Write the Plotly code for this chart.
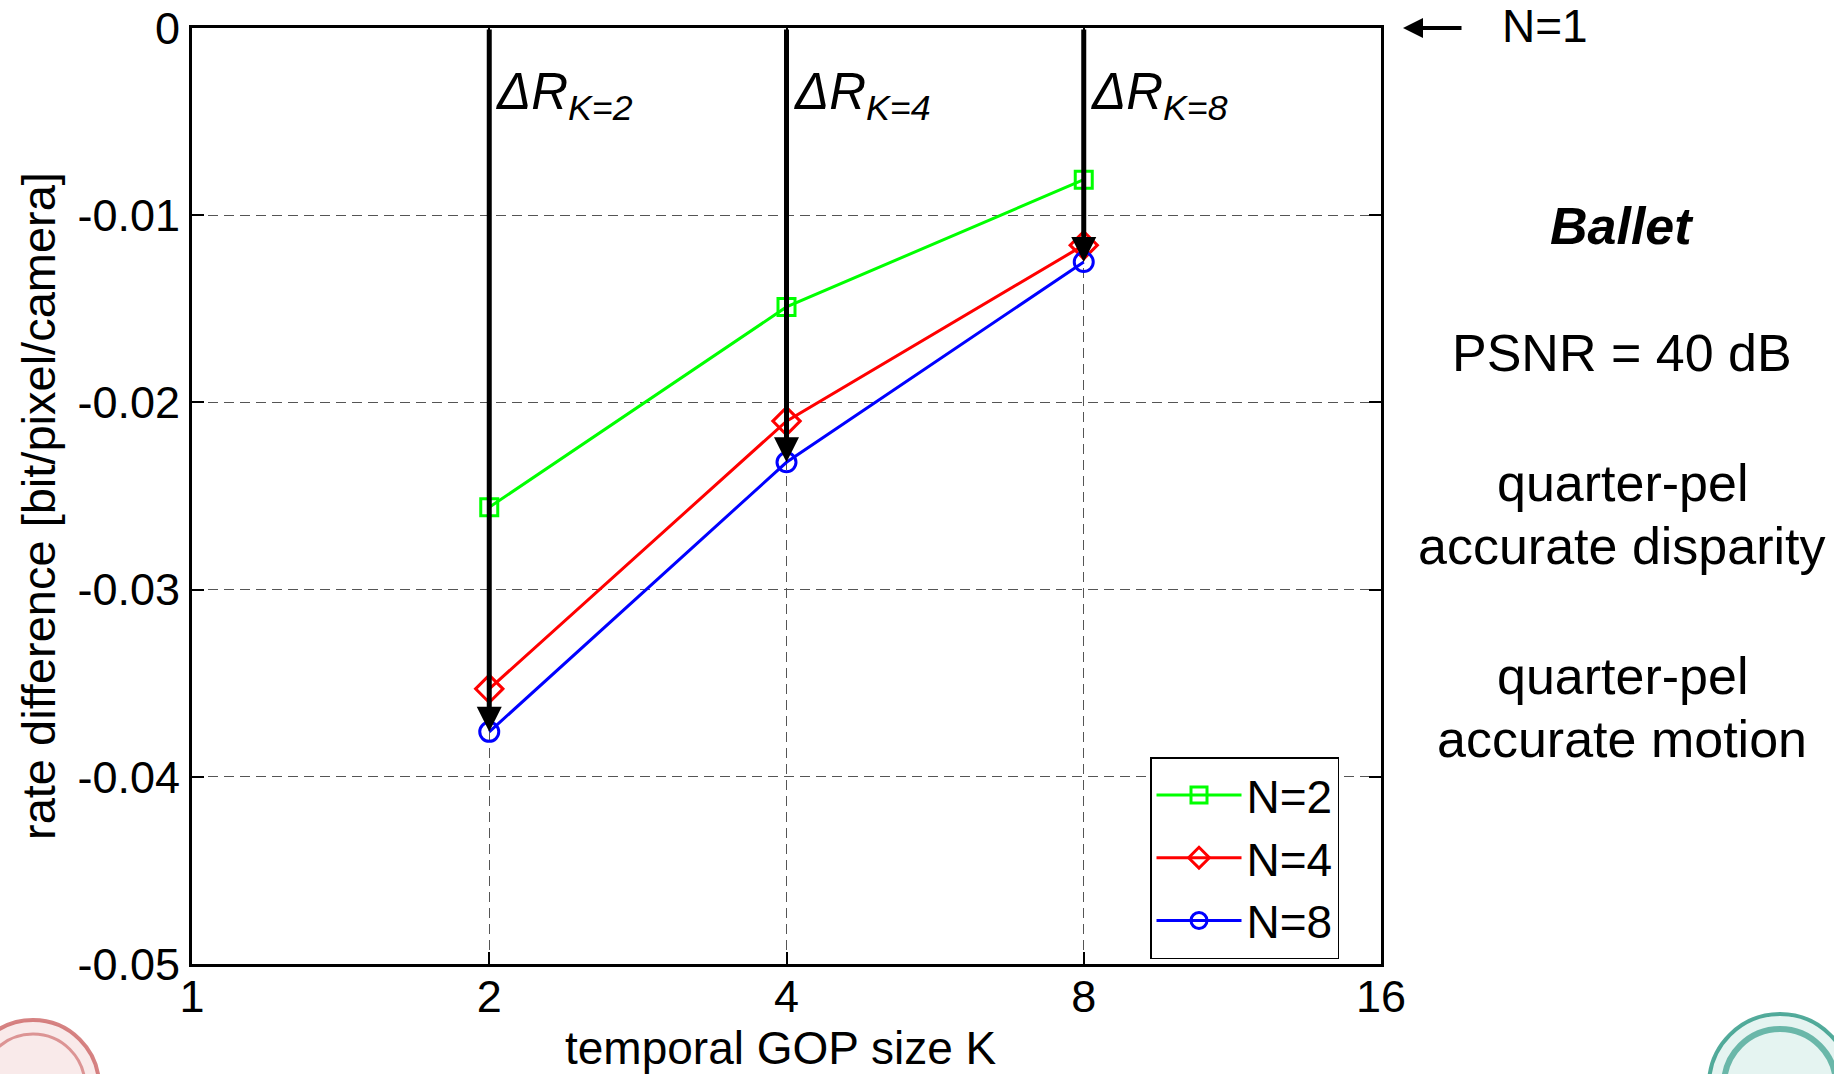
import math
import plotly.graph_objects as go

# ---------------- data ----------------
K = [2, 4, 8]
n2 = [-0.0256, -0.0149, -0.0081]
n4 = [-0.0353, -0.0210, -0.0116]
n8 = [-0.0376, -0.0232, -0.0125]
series_names = ["N=2", "N=4", "N=8"]
x_ticks = [1, 2, 4, 8, 16]
x_tick_text = ["1", "2", "4", "8", "16"]
y_ticks = [0, -0.01, -0.02, -0.03, -0.04, -0.05]
y_tick_text = ["0", "-0.01", "-0.02", "-0.03", "-0.04", "-0.05"]
delta_labels = ["K=2", "K=4", "K=8"]
side_lines = ["<b><i>Ballet</i></b>", "PSNR = 40 dB", "quarter-pel", "accurate disparity",
              "quarter-pel", "accurate motion"]

FONT = "Liberation Sans, Arial, sans-serif"
W, H = 1834, 1074
L, R, T, B = 192, 453, 28, 110
PW, PH = W - L - R, H - T - B


def px(x):
    return (x - L) / PW


def py(y):
    return (H - B - y) / PH


fig = go.Figure()
styles = [
    dict(color="#00FF00", symbol="square-open", size=17),
    dict(color="#FF0000", symbol="diamond-open", size=21),
    dict(color="#0000FF", symbol="circle-open", size=19),
]
for name, ys, st in zip(series_names, [n2, n4, n8], styles):
    fig.add_trace(go.Scatter(
        x=K, y=ys, name=name, mode="lines+markers",
        line=dict(color=st["color"], width=3),
        marker=dict(symbol=st["symbol"], size=st["size"], color=st["color"],
                    line=dict(color=st["color"], width=3)),
    ))

# Delta-R arrows from 0 down to N=8 values
for k, yv, lab in zip(K, n8, delta_labels):
    fig.add_annotation(x=math.log10(k), y=yv, xref="x", yref="y",
                       ax=math.log10(k), ay=0, axref="x", ayref="y",
                       text="", showarrow=True, arrowhead=2, arrowsize=1,
                       arrowwidth=5, arrowcolor="black", standoff=0)
    fig.add_annotation(x=math.log10(k), y=-0.0036, xref="x", yref="y",
                       xanchor="left", yanchor="middle", xshift=5,
                       text=f"<i>\u0394R<sub>{lab}</sub></i>", showarrow=False,
                       font=dict(family=FONT, size=51, color="black"))

# N=1 arrow at the right of the frame
fig.add_annotation(x=px(1403), y=1.0, xref="paper", yref="paper",
                   ax=60, ay=0, axref="pixel", ayref="pixel", text="",
                   showarrow=True, arrowhead=2, arrowsize=1, arrowwidth=4,
                   arrowcolor="black", standoff=0)
fig.add_annotation(x=px(1500), y=py(26), xref="paper", yref="paper",
                   xanchor="left", yanchor="middle", text="N=1", showarrow=False,
                   font=dict(family=FONT, size=46, color="black"))

# side texts
side_y = [226, 353, 483, 546, 676, 739]
for t, yy in zip(side_lines, side_y):
    fig.add_annotation(x=px(1622), y=py(yy), xref="paper", yref="paper",
                       xanchor="center", yanchor="middle", text=t, showarrow=False,
                       font=dict(family=FONT, size=52, color="black"))

# axis titles
fig.add_annotation(x=px(781), y=py(1048), xref="paper", yref="paper",
                   xanchor="center", yanchor="middle", text="temporal GOP size K",
                   showarrow=False, borderpad=0,
                   font=dict(family=FONT, size=46, color="black"))
fig.add_annotation(x=px(39), y=py(506), xref="paper", yref="paper",
                   xanchor="center", yanchor="middle", textangle=-90,
                   text="rate difference [bit/pixel/camera]",
                   showarrow=False, font=dict(family=FONT, size=47, color="black"))

# decorative seals (approximate)
def ring(cx, cy, r, color, width, fill="rgba(0,0,0,0)"):
    fig.add_shape(type="circle", xref="paper", yref="paper",
                  x0=px(cx - r), x1=px(cx + r), y0=py(cy + r), y1=py(cy - r),
                  line=dict(color=color, width=width), fillcolor=fill, layer="below")

ring(33, 1086, 66, "rgba(200,90,90,0.75)", 4, "rgba(230,170,170,0.25)")
ring(33, 1086, 52, "rgba(200,90,90,0.6)", 3)
ring(1780, 1085, 71, "rgba(40,150,130,0.8)", 4, "rgba(150,210,200,0.25)")
ring(1780, 1085, 56, "rgba(40,150,130,0.65)", 6)

axis_common = dict(
    showline=True, linecolor="black", linewidth=3, mirror="allticks",
    ticks="inside", ticklen=12, tickwidth=2, tickcolor="black",
    showgrid=True, gridcolor="#555555", gridwidth=1.3, griddash="10px,6px",
    zeroline=False, automargin=False,
    tickfont=dict(family=FONT, size=45, color="black"),
)
fig.update_xaxes(type="log", range=[0, math.log10(16)], tickvals=x_ticks,
                 ticktext=x_tick_text, ticklabelstandoff=-9, **axis_common)
fig.update_yaxes(range=[-0.05, 0], tickvals=y_ticks, ticktext=y_tick_text,
                 ticklabelstandoff=0, **axis_common)

fig.update_layout(
    width=W, height=H,
    margin=dict(l=L, r=R, t=T, b=B, autoexpand=False),
    paper_bgcolor="white", plot_bgcolor="white",
    font=dict(family=FONT, color="black"),
    legend=dict(x=px(1150), y=py(757), xanchor="left", yanchor="top",
                bgcolor="white", bordercolor="black", borderwidth=1.5,
                font=dict(family=FONT, size=46, color="black"),
                tracegroupgap=0, itemwidth=85),
    showlegend=True,
)

fig.write_html("out.html")
